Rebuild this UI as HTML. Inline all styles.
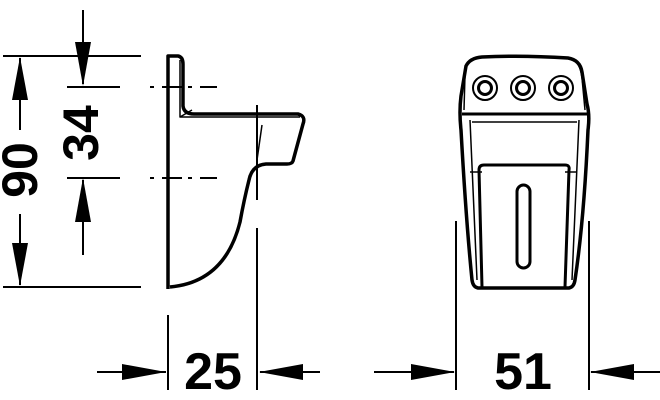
<!DOCTYPE html>
<html><head><style>body{margin:0;background:#fff}svg{display:block}</style></head><body>
<svg width="660" height="400" viewBox="0 0 660 400" xmlns="http://www.w3.org/2000/svg" font-family="Liberation Sans, Arial, sans-serif" font-weight="bold">
<g stroke="#000" stroke-width="2" fill="none">
<line x1="3" y1="56" x2="141" y2="56"/>
<line x1="3" y1="287" x2="141" y2="287"/>
<line x1="20" y1="58" x2="20" y2="130"/>
<line x1="20" y1="214" x2="20" y2="285"/>
<line x1="83" y1="10" x2="83" y2="84"/>
<line x1="83" y1="180" x2="83" y2="255"/>
<line x1="67" y1="87" x2="120" y2="87"/>
<line x1="67" y1="178" x2="120" y2="178"/>
<line x1="150" y1="87" x2="217" y2="87" stroke-dasharray="4 8 20 6"/>
<line x1="150" y1="178" x2="217" y2="178" stroke-dasharray="4 8 20 6"/>
<line x1="257" y1="105" x2="257" y2="200"/>
<line x1="257" y1="228" x2="257" y2="390"/>
<line x1="168" y1="315" x2="168" y2="390"/>
<line x1="97" y1="372" x2="166" y2="372"/>
<line x1="260" y1="372" x2="320" y2="372"/>
<line x1="456" y1="221" x2="456" y2="390"/>
<line x1="589" y1="221" x2="589" y2="390"/>
<line x1="374" y1="372" x2="454" y2="372"/>
<line x1="591" y1="372" x2="660" y2="372"/>
</g>
<g fill="#000">
<polygon points="20,57 12,100 28,100"/>
<polygon points="20,286 12,243 28,243"/>
<polygon points="83,86 75,42 91,42"/>
<polygon points="83,178 75,222 91,222"/>
<polygon points="166,372 122,364 122,380"/>
<polygon points="259,372 303,364 303,380"/>
<polygon points="455,372 411,364 411,380"/>
<polygon points="590,372 634,364 634,380"/>
</g>
<text transform="translate(37,170) rotate(-90)" font-size="50" text-anchor="middle">90</text>
<text transform="translate(98,133) rotate(-90)" font-size="50" text-anchor="middle">34</text>
<text x="213" y="389" font-size="52" text-anchor="middle">25</text>
<text x="523" y="389" font-size="52" text-anchor="middle">51</text>
<g stroke="#000" fill="none" stroke-linejoin="round">
<path d="M168,289 L168,56 L178,56 Q183,57 183,64 L183,106 Q184,114 194,114 L298,114 Q306,116 303,124 L293,161 Q292,164 287,164 L266,164 Q252,165 249,180 Q244,200 240,222 Q225,282 170,287" stroke-width="3.5"/>
<path d="M180,60 L180,117 L300,117" stroke-width="1.5"/>
<path d="M180,117 L192,110" stroke-width="1.5"/>
<path d="M262,125 L257,160" stroke-width="1.5"/>
</g>
<g stroke="#000" fill="none" stroke-linejoin="round">
<path d="M478,288 Q473,287 472,280 Q466,220 461,130 Q459,112 461,96 L466,66 Q470,58 482,57 Q522,55 568,58 Q580,60 582,72 L587,104 Q590,115 588,130 Q584,220 575,280 Q574,287 569,288 Z" stroke-width="3.5"/>
<path d="M462,114 L588,114" stroke-width="3"/>
<path d="M472,59 Q466,60 465,75 L464,110 M572,59 Q580,62 582,78 L585,110" stroke-width="1.5"/>
<path d="M470,120 L477,280 M579,120 L572,280 M472,122 L577,122" stroke-width="1.5"/>
<path d="M482,287 L479,170 Q479,165 484,165 L565,165 Q570,165 569,170 L565,287" stroke-width="3"/>
<path d="M470,172 L482,172 M577,172 L565,172" stroke-width="1.5"/>
<rect x="517" y="185" width="13" height="83" rx="6.5" stroke-width="3"/>
<circle cx="485" cy="88" r="12" stroke-width="2"/>
<circle cx="485" cy="88" r="6.5" stroke-width="3"/>
<circle cx="523" cy="88" r="12" stroke-width="2"/>
<circle cx="523" cy="88" r="6.5" stroke-width="3"/>
<circle cx="561" cy="88" r="12" stroke-width="2"/>
<circle cx="561" cy="88" r="6.5" stroke-width="3"/>
</g>
</svg>
</body></html>
